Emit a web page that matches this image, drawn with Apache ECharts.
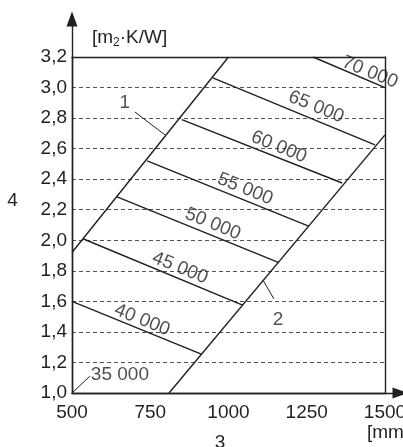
<!DOCTYPE html>
<html><head><meta charset="utf-8">
<script src="https://cdn.jsdelivr.net/npm/echarts@6/dist/echarts.min.js"></script>
<style>html,body{margin:0;padding:0;background:#fff}#c{width:403px;height:447px}</style>
</head><body><div id="c"></div>
<script>
// axis ranges / ticks
const xMin = 500, xMax = 1500, xStep = 250;
const yMin = 1.0, yMax = 3.2, yStep = 0.2;

// iso lines (start on line 1 / left axis, end on line 2 / right border)
const isoNames  = ['40 000','45 000','50 000','55 000','60 000','65 000','70 000'];
const isoStartX = [500, 535, 644, 740, 851, 950, 1270];
const isoStartY = [1.60, 2.01, 2.284, 2.52, 2.79, 3.063, 3.2];
const isoEndX   = [913, 1045, 1159, 1256, 1363, 1468, 1500];
const isoEndY   = [1.255, 1.576, 1.855, 2.092, 2.375, 2.624, 3.0];
// label anchor points of iso-line texts
const isoLabelX = [724, 845, 950, 1053, 1161, 1280, 1452];
const isoLabelY = [1.478, 1.819, 2.107, 2.336, 2.611, 2.873, 3.10];

// boundary lines 1 and 2
const line1X = [500, 1000], line1Y = [1.92, 3.2];
const line2X = [810, 1500], line2Y = [1.0, 2.69];

// leaders and their labels
const leader35X = [500, 557], leader35Y = [1.0, 1.11];
const leader1X = [701, 797], leader1Y = [2.84, 2.69];
const leader2X = [1110, 1145], leader2Y = [1.74, 1.616];
const noteNames = ['35 000', '1', '2'];
const noteX = [653, 669, 1158];
const noteY = [1.118, 2.90, 1.478];

const INK = '#231f20';
const FONT = '"Liberation Sans", Arial, Helvetica, sans-serif';
const FS = 19;
const zip = (xs, ys) => xs.map((x, i) => [x, ys[i]]);

const lineSeries = (data, w) => ({
  type: 'line', xAxisIndex: 0, yAxisIndex: 0, data: data, symbol: 'none',
  silent: true, clip: true, animation: false,
  lineStyle: { color: INK, width: w }
});

const series = [];
isoNames.forEach((n, i) => {
  series.push(lineSeries([[isoStartX[i], isoStartY[i]], [isoEndX[i], isoEndY[i]]], 1.4));
});
series.push(lineSeries(zip(line1X, line1Y), 1.4));
series.push(lineSeries(zip(line2X, line2Y), 1.4));
series.push(lineSeries(zip(leader35X, leader35Y), 1));
series.push(lineSeries(zip(leader1X, leader1Y), 1));
series.push(lineSeries(zip(leader2X, leader2Y), 1));

series.push({
  type: 'scatter', xAxisIndex: 0, yAxisIndex: 0, symbolSize: 1, silent: true, animation: false,
  itemStyle: { color: 'rgba(0,0,0,0)' },
  data: isoNames.map((n, i) => ({ value: [isoLabelX[i], isoLabelY[i]], name: n })),
  label: { show: true, position: 'inside', rotate: -22, formatter: p => p.name,
    color: INK, fontSize: FS, fontFamily: FONT }
});
series.push({
  type: 'scatter', xAxisIndex: 0, yAxisIndex: 0, symbolSize: 1, silent: true, animation: false,
  itemStyle: { color: 'rgba(0,0,0,0)' },
  data: noteNames.map((n, i) => ({ value: [noteX[i], noteY[i]], name: n })),
  label: { show: true, position: 'inside', formatter: p => p.name,
    color: INK, fontSize: FS, fontFamily: FONT }
});

const axisLineStyle = { color: INK, width: 1.4 };
const hidden = { show: false };

const option = {
  animation: false,
  backgroundColor: '#fff',
  grid: [
    { left: 72, right: 18, top: 57, bottom: 54, outerBoundsMode: 'none', containLabel: false },
    { left: 72, right: 3, top: 19, bottom: 54, outerBoundsMode: 'none', containLabel: false }
  ],
  xAxis: [
    { type: 'value', gridIndex: 0, min: xMin, max: xMax, interval: xStep, position: 'bottom',
      axisLine: { show: true, lineStyle: axisLineStyle }, axisTick: hidden, splitLine: hidden,
      axisLabel: { color: INK, fontSize: FS, fontFamily: FONT, margin: 10, formatter: v => String(v) } },
    { type: 'value', gridIndex: 0, min: xMin, max: xMax, position: 'top',
      axisLine: { show: true, lineStyle: axisLineStyle }, axisTick: hidden, splitLine: hidden, axisLabel: hidden },
    { type: 'value', gridIndex: 1, min: 0, max: 1,
      axisLine: { show: true, symbol: ['none', 'triangle'], symbolSize: [11, 15], lineStyle: axisLineStyle },
      axisTick: hidden, splitLine: hidden, axisLabel: hidden }
  ],
  yAxis: [
    { type: 'value', gridIndex: 0, min: yMin, max: yMax, interval: yStep, position: 'left',
      axisLine: { show: true, lineStyle: axisLineStyle }, axisTick: hidden,
      splitLine: { show: true, lineStyle: { color: '#555', width: 1, type: [4, 3] } },
      axisLabel: { color: INK, fontSize: FS, fontFamily: FONT, margin: 5,
        formatter: v => v.toFixed(1).replace('.', ',') } },
    { type: 'value', gridIndex: 0, min: yMin, max: yMax, position: 'right',
      axisLine: { show: true, lineStyle: axisLineStyle }, axisTick: hidden, splitLine: hidden, axisLabel: hidden },
    { type: 'value', gridIndex: 1, min: 0, max: 1,
      axisLine: { show: true, symbol: ['none', 'triangle'], symbolSize: [11, 15], lineStyle: axisLineStyle },
      axisTick: hidden, splitLine: hidden, axisLabel: hidden }
  ],
  graphic: [
    { type: 'text', left: 92, top: 28, style: {
        text: '[m{sub|2}·K/W]', fill: INK, font: FS + 'px ' + FONT,
        rich: { sub: { fontSize: 12, fontFamily: FONT, fill: INK, padding: [10, 0, 0, 0] } } } },
    { type: 'text', x: 12.5, y: 201, style: { text: '4', fill: INK, font: FS + 'px ' + FONT, align: 'center', verticalAlign: 'middle' } },
    { type: 'text', x: 220, y: 443, style: { text: '3', fill: INK, font: FS + 'px ' + FONT, align: 'center', verticalAlign: 'middle' } },
    { type: 'text', x: 367, y: 433, style: { text: '[mm]', fill: INK, font: FS + 'px ' + FONT, align: 'left', verticalAlign: 'middle' } }
  ],
  series: series
};

const chart = echarts.init(document.getElementById('c'), null, { renderer: 'canvas' });
chart.setOption(option);
</script>
</body></html>
